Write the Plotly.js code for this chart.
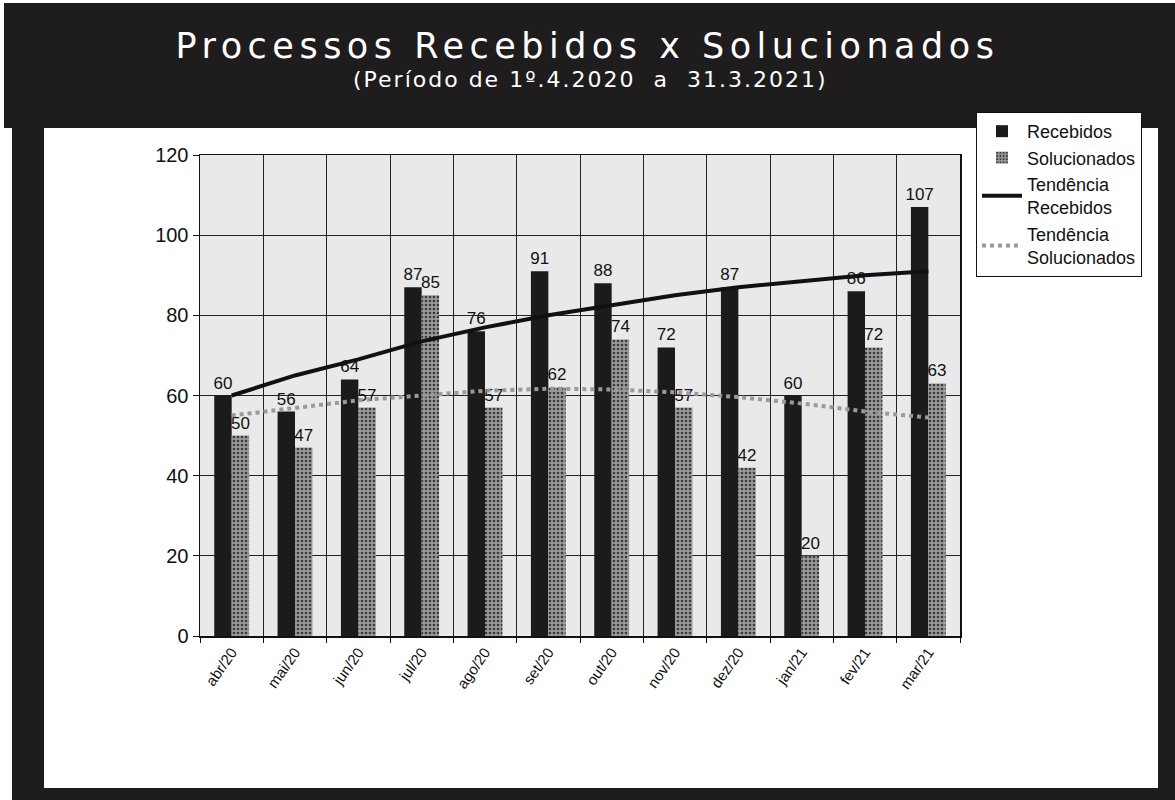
<!DOCTYPE html>
<html>
<head>
<meta charset="utf-8">
<script src="https://cdn.plot.ly/plotly-3.0.1.min.js"></script>
<style>
  html, body { margin: 0; padding: 0; background: #ffffff; }
  #chart { width: 1175px; height: 800px; }
  .gtitle { letter-spacing: 5.5px; }
  .annotation-text { letter-spacing: 2px; }
</style>
</head>
<body>
<div id="chart"></div>
<script>
// ---- data ----
const months = ['abr/20','mai/20','jun/20','jul/20','ago/20','set/20','out/20','nov/20','dez/20','jan/21','fev/21','mar/21'];
const recebidos = [60, 56, 64, 87, 76, 91, 88, 72, 87, 60, 86, 107];
const solucionados = [50, 47, 57, 85, 57, 62, 74, 57, 42, 20, 72, 63];
const tendRecebidos = [60, 65, 69, 73.5, 77, 80, 82.5, 85, 87, 88.5, 90, 91];
const tendSolucionados = [55, 57, 58.8, 60, 61.2, 61.7, 61.5, 60.8, 59.6, 58, 56, 54.5];
const yTicks = [0, 20, 40, 60, 80, 100, 120];

const titleText = 'Processos Recebidos x Solucionados';
const subtitleText = '(Período de 1º.4.2020  a  31.3.2021)';

// ---- layout geometry (pixels) ----
const W = 1175, H = 800;
const M = {l: 200, r: 215, t: 155, b: 164};
const PW = W - M.l - M.r, PH = H - M.t - M.b;
const px = x => (x - M.l) / PW;
const py = y => (H - M.b - y) / PH;

const frameRect = (x0, y0, x1, y1) => ({
  type: 'rect', xref: 'paper', yref: 'paper', layer: 'below',
  x0: px(x0), x1: px(x1), y0: py(y1), y1: py(y0),
  fillcolor: '#1e1c1d', line: {width: 0}
});

const labelFont = {family: 'Liberation Sans, Arial, sans-serif', size: 17, color: '#111'};

const traces = [
  {
    type: 'bar', name: 'Recebidos', x: months, y: recebidos,
    marker: {color: '#1c1a1b', line: {width: 0}},
    text: recebidos.map(String), textposition: 'outside', cliponaxis: false,
    constraintext: 'none', textfont: labelFont
  },
  {
    type: 'bar', name: 'Solucionados', x: months, y: solucionados,
    marker: {color: '#8e8e8e', line: {width: 0},
      pattern: {shape: '.', fgcolor: '#3a3a3a', bgcolor: '#9a9a9a', size: 4, solidity: 0.35}},
    text: solucionados.map(String), textposition: 'outside', cliponaxis: false,
    constraintext: 'none', textfont: labelFont
  },
  {
    type: 'scatter', mode: 'lines', name: 'Tendência<br>Recebidos',
    x: months, y: tendRecebidos,
    line: {color: '#111111', width: 4}
  },
  {
    type: 'scatter', mode: 'lines', name: 'Tendência<br>Solucionados',
    x: months, y: tendSolucionados,
    line: {color: '#9a9a9a', width: 4, dash: 'dot'}
  }
];

const layout = {
  width: W, height: H,
  margin: M,
  paper_bgcolor: '#ffffff',
  plot_bgcolor: '#e9e9e9',
  font: {family: 'Liberation Sans, Arial, sans-serif', color: '#111'},
  title: {
    text: titleText,
    font: {family: 'DejaVu Sans, sans-serif', size: 35, color: '#ffffff'},
    xref: 'container', yref: 'container',
    x: 0.5, xanchor: 'center', y: 1 - 46 / H, yanchor: 'middle'
  },
  annotations: [{
    text: subtitleText, showarrow: false,
    xref: 'paper', yref: 'paper', x: px(590), y: py(80),
    xanchor: 'center', yanchor: 'middle',
    font: {family: 'DejaVu Sans, sans-serif', size: 22, color: '#ffffff'}
  }],
  barmode: 'group',
  bargap: 0.45,
  bargroupgap: 0,
  showlegend: true,
  legend: {
    x: px(976), y: py(112), xanchor: 'left', yanchor: 'top',
    bgcolor: '#ffffff', bordercolor: '#111', borderwidth: 1,
    font: {family: 'Liberation Sans, Arial, sans-serif', size: 18, color: '#111'},
    tracegroupgap: 2, itemwidth: 40
  },
  xaxis: {
    type: 'category', tickangle: -55,
    tickson: 'boundaries', ticks: 'outside', ticklen: 5, tickcolor: '#111',
    showgrid: true, gridcolor: '#222', gridwidth: 1,
    showline: true, linecolor: '#111', linewidth: 1.5, mirror: true,
    tickfont: {family: 'Liberation Sans, Arial, sans-serif', size: 15, color: '#111'}
  },
  yaxis: {
    range: [0, 120], tickvals: yTicks, ticktext: yTicks.map(String),
    ticks: 'outside', ticklen: 6, tickcolor: '#111',
    showgrid: true, gridcolor: '#222', gridwidth: 1,
    showline: true, linecolor: '#111', linewidth: 1.5, mirror: true,
    zeroline: false,
    tickfont: {family: 'Liberation Sans, Arial, sans-serif', size: 20, color: '#111'}
  },
  shapes: [
    frameRect(4, 3, 1175, 128),     // top band
    frameRect(12, 3, 44, 792),      // left band
    frameRect(1158, 3, 1175, 800),  // right band
    frameRect(12, 788, 1175, 800)   // bottom band
  ]
};

Plotly.newPlot('chart', traces, layout, {displayModeBar: false, staticPlot: true});
</script>
</body>
</html>
